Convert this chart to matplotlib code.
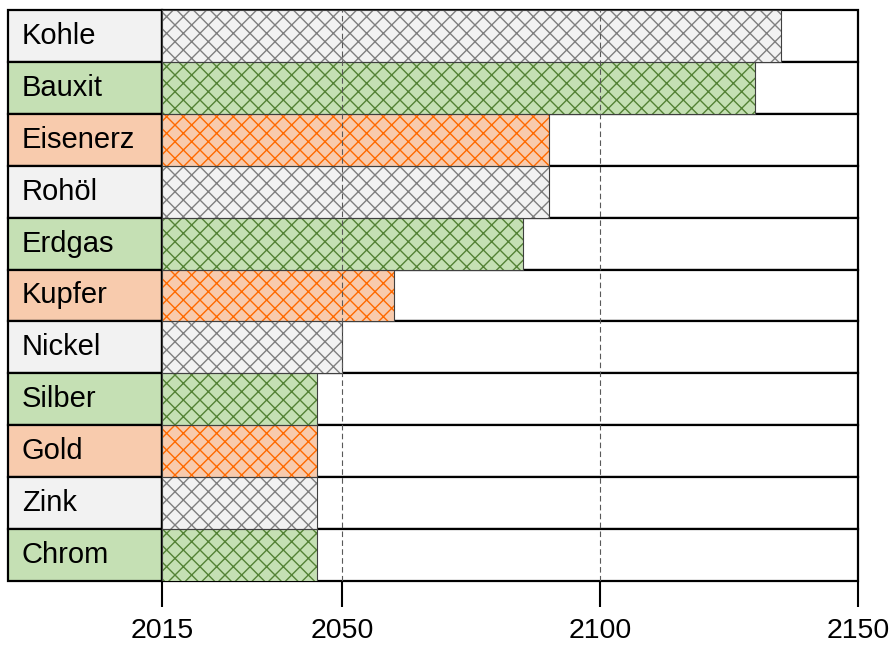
import matplotlib
matplotlib.use('Agg')
import matplotlib.pyplot as plt

plt.rcParams['font.family'] = ['Liberation Sans', 'DejaVu Sans']
plt.rcParams['hatch.linewidth'] = 1.0

# Rohstoffe und Jahr der Reichweite
rohstoffe = ['Kohle', 'Bauxit', 'Eisenerz', 'Rohöl', 'Erdgas', 'Kupfer',
             'Nickel', 'Silber', 'Gold', 'Zink', 'Chrom']
jahr = [2135, 2130, 2090, 2090, 2085, 2060, 2050, 2045, 2045, 2045, 2045]
gruppe = ['grau', 'gruen', 'orange', 'grau', 'gruen', 'orange',
          'grau', 'gruen', 'orange', 'grau', 'gruen']
xticks = [2015, 2050, 2100, 2150]
gitter = [2050, 2100]

fuellung = {'grau': '#F2F2F2', 'gruen': '#C5E0B4', 'orange': '#F8CBAD'}
schraffur = {'grau': '#7F7F7F', 'gruen': '#548235', 'orange': '#FF6A00'}

start, ende = 2015, 2150

fig = plt.figure(figsize=(8.94, 6.46), dpi=100)
W, H = 894, 646
unten = (H - 581) / H
hoehe = 571 / H
ax_lab = fig.add_axes([8 / W, unten, 154 / W, hoehe])
ax = fig.add_axes([162 / W, unten, 696 / W, hoehe])

y = list(range(len(rohstoffe)))

# Beschriftungsfelder links
ax_lab.barh(y, 1, left=0, height=1,
            color=[fuellung[g] for g in gruppe],
            edgecolor='black', linewidth=1.6, clip_on=False)
for i, name in zip(y, rohstoffe):
    ax_lab.text(0.09, i, name, va='center', ha='left', fontsize=21)
ax_lab.set_xlim(0, 1)
ax_lab.set_ylim(len(y) - 0.5, -0.5)
ax_lab.axis('off')

# weisse Zeilen
ax.barh(y, ende - start, left=start, height=1, color='white',
        edgecolor='black', linewidth=1.6, clip_on=False, zorder=1)

# Balken mit Schraffur
breite = [j - start for j in jahr]
ax.barh(y, breite, left=start, height=1,
        color=[fuellung[g] for g in gruppe],
        edgecolor=[schraffur[g] for g in gruppe],
        hatch='xx', linewidth=0, zorder=2)
ax.barh(y, breite, left=start, height=1, fill=False,
        edgecolor='#404040', linewidth=0.8, zorder=3)

for g in gitter:
    ax.axvline(g, color='#595959', linestyle=(0, (5, 3)), linewidth=0.8, zorder=4)

ax.set_xlim(start, ende)
ax.set_ylim(len(y) - 0.5, -0.5)
ax.set_xticks(xticks)
ax.set_yticks([])
ax.tick_params(axis='x', direction='out', length=19, width=1.5,
               pad=8, labelsize=20.5)
for s in ax.spines.values():
    s.set_visible(False)

fig.savefig('out.png', dpi=100)
